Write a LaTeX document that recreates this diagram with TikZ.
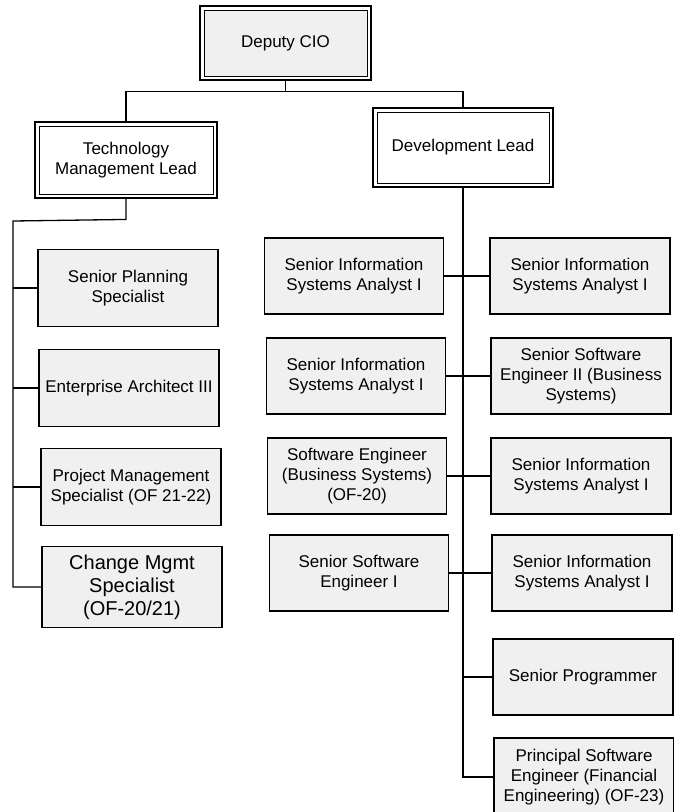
\documentclass[tikz,border=0pt]{standalone}
\usepackage{fontspec}
\setmainfont{Liberation Sans}
\begin{document}
\begin{tikzpicture}[x=1pt,y=-1pt]
\tikzset{
 stip/.style={draw, line width=1.6pt, fill=gray!12, align=center, inner sep=0pt, font=\fontsize{17}{20}\selectfont},
 leadbox/.style={draw, line width=0.9pt, align=center, inner sep=0pt, font=\fontsize{17}{20}\selectfont},
 outerline/.style={line width=1.9pt},
 lcol/.style={stip, minimum width=180pt, minimum height=77pt},
 mcol/.style={stip, minimum width=179pt, minimum height=76pt},
 rcol/.style={stip, minimum width=180pt, minimum height=76pt},
 conn/.style={line width=1.3pt},
}
\useasboundingbox[fill=white] (0,0) rectangle (673,812);

% top levels
\node[leadbox, fill=gray!12, minimum width=163pt, minimum height=66pt] (cio) at (285.5,43) {Deputy CIO};
\node[leadbox, minimum width=174pt, minimum height=68pt] (tech) at (126,160) {Technology\\Management Lead};
\node[leadbox, minimum width=172pt, minimum height=71pt] (dev) at (463,147.5) {Development Lead};
\foreach \n in {cio,tech,dev}
  \draw[outerline] ([xshift=-3.2pt,yshift=-3.2pt]\n.south west) rectangle ([xshift=3.2pt,yshift=3.2pt]\n.north east);

% left column
\node[lcol] (sps) at (128,288) {Senior Planning\\Specialist};
\node[lcol] (ea)  at (129,388) {Enterprise Architect III};
\node[lcol] (pms) at (131,487) {Project Management\\Specialist (OF 21-22)};
\node[lcol, minimum height=81pt, font=\fontsize{20}{23}\selectfont] (cm) at (132,587) {Change Mgmt\\Specialist\\(OF-20/21)};

% middle column
\node[mcol] (m1) at (354,276) {Senior Information\\Systems Analyst I};
\node[mcol] (m2) at (356,376) {Senior Information\\Systems Analyst I};
\node[mcol] (m3) at (357,476) {Software Engineer\\(Business Systems)\\(OF-20)};
\node[mcol] (m4) at (359,573) {Senior Software\\Engineer I};

% right column
\node[rcol] (r1) at (580,276) {Senior Information\\Systems Analyst I};
\node[rcol] (r2) at (581,376) {Senior Software\\Engineer II (Business\\Systems)};
\node[rcol] (r3) at (581,476) {Senior Information\\Systems Analyst I};
\node[rcol] (r4) at (582,573) {Senior Information\\Systems Analyst I};
\node[rcol] (r5) at (583,677) {Senior Programmer};
\node[rcol, minimum height=78pt] (r6) at (584,777) {Principal Software\\Engineer (Financial\\Engineering) (OF-23)};

% connectors top
\path (cio.south) ++(0,15) coordinate (j0);
\draw[conn] ([yshift=-3.2pt]cio.south) -- (j0);
\draw[conn] ([yshift=3.2pt]tech.north) |- (j0) -| ([yshift=3.2pt]dev.north);

% technology management branch
\path (tech.south) ++(0,25) coordinate (tj);
\coordinate (tl) at (13,221);
\draw[conn] ([yshift=-3.2pt]tech.south) -- (tj) -- (tl) |- (cm.west);
\foreach \n in {sps,ea,pms} \draw[conn] (tl |- \n.west) -- (\n.west);

% development branch
\draw[conn] ([yshift=-3.2pt]dev.south) |- (r6.west);
\draw[conn] (dev.south |- r5.west) -- (r5.west);
\draw[conn] (m1.east) -- (r1.west);
\draw[conn] (m2.east) -- (r2.west);
\draw[conn] (m3.east) -- (r3.west);
\draw[conn] (m4.east) -- (r4.west);
\end{tikzpicture}
\end{document}
